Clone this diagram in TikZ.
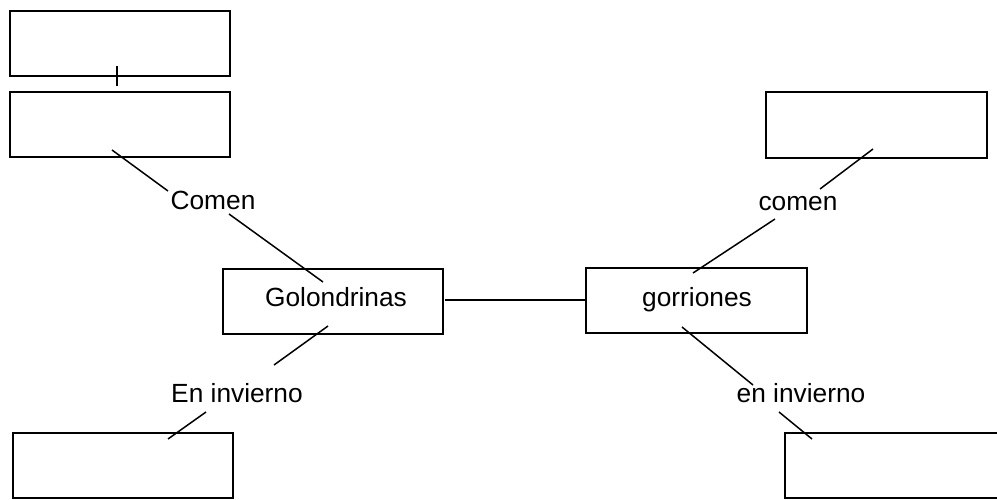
\documentclass[tikz,border=0pt]{standalone}
\usepackage{fontspec}
\setmainfont{Liberation Sans}
\begin{document}
\begin{tikzpicture}[x=1pt,y=-1pt,
  box/.style={draw,line width=1.6pt,inner sep=0pt,anchor=north west},
  lbl/.style={inner sep=0pt,anchor=base,font=\fontsize{26.3pt}{30pt}\selectfont},
  conn/.style={line width=1.5pt}]
\useasboundingbox (0,0) rectangle (997,499);
% boxes
\node[box,minimum width=220pt,minimum height=65pt] (b1) at (9,10) {};
\node[box,minimum width=220pt,minimum height=65pt] (b2) at (9,91) {};
\node[box,minimum width=221pt,minimum height=66pt] (tr) at (765,91) {};
\node[box,minimum width=220pt,minimum height=65pt] (gol) at (222,268) {};
\node[box,minimum width=221pt,minimum height=65pt] (gor) at (585,267) {};
\node[box,minimum width=220pt,minimum height=65pt] (bl) at (12,432) {};
\node[box,minimum width=225pt,minimum height=65pt] (br) at (784,432) {};
% texts
\node[lbl] (golt) at (336,306) {Golondrinas};
\node[lbl] (gort) at (697,306) {gorriones};
\node[lbl] (c1) at (213,209) {Comen};
\node[lbl] (c2) at (798,210) {comen};
\node[lbl] (e1) at (237,402) {En invierno};
\node[lbl] (e2) at (801,402) {en invierno};
% endpoints
\coordinate (t1) at (117,66); \coordinate (t2) at (117,86);
\coordinate (p1) at (112,150); \coordinate (p2) at (168,191);
\coordinate (p3) at (229,214); \coordinate (p4) at (323,282);
\coordinate (q1) at (328,326); \coordinate (q2) at (274,365);
\coordinate (q3) at (206,412); \coordinate (q4) at (168,439);
\coordinate (r1) at (873,149); \coordinate (r2) at (820,189);
\coordinate (r3) at (775,219); \coordinate (r4) at (693,273);
\coordinate (s1) at (682,327); \coordinate (s2) at (753,385);
\coordinate (s3) at (779,412); \coordinate (s4) at (812,439);
\coordinate (h1) at (445,300); \coordinate (h2) at (587,300);
% connectors
\draw[conn] (t1) -- (t2);
\draw[conn] (p1) -- (p2);
\draw[conn] (p3) -- (p4);
\draw[conn] (q1) -- (q2);
\draw[conn] (q3) -- (q4);
\draw[conn] (r1) -- (r2);
\draw[conn] (r3) -- (r4);
\draw[conn] (s1) -- (s2);
\draw[conn] (s3) -- (s4);
\draw[conn] (h1) -- (h2);
\end{tikzpicture}
\end{document}
